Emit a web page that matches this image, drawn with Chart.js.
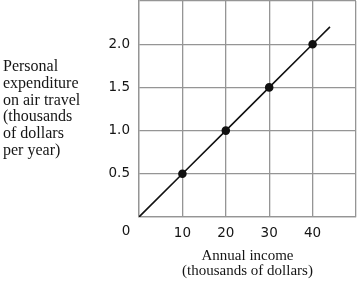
<!DOCTYPE html>
<html>
<head>
<meta charset="utf-8">
<script src="https://cdn.jsdelivr.net/npm/chart.js@4.4.1/dist/chart.umd.min.js"></script>
<style>
  html, body { margin: 0; padding: 0; background: #fff; }
  #wrap { width: 357px; height: 283px; position: relative; }
</style>
</head>
<body>
<div id="wrap"><canvas id="chart"></canvas></div>
<script>
// income (thousands of dollars) and air-travel spending (thousands per year)
const income = [0, 10, 20, 30, 40, 44];
const spending = [0, 0.5, 1.0, 1.5, 2.0, 2.2];
const xTicks = [10, 20, 30, 40];
const yTicks = [0.5, 1.0, 1.5, 2.0];
const yTitle = ['Personal', 'expenditure', 'on air travel', '(thousands', 'of dollars', 'per year)'];
const xTitle = ['Annual income', '(thousands of dollars)'];

const tickFont = { family: 'DejaVu Sans', size: 13.5 };
const gridColor = '#959595';

// titles and the lone "0" at the corner
const extras = {
  id: 'extras',
  afterDraw(chart) {
    const { ctx, chartArea } = chart;
    ctx.save();
    ctx.fillStyle = '#151515';
    ctx.font = '16px "Liberation Serif"';
    ctx.textAlign = 'left';
    ctx.textBaseline = 'middle';
    yTitle.forEach((line, i) => ctx.fillText(line, 3, 67 + i * 16.7));
    ctx.font = '15px "Liberation Serif"';
    ctx.textAlign = 'center';
    const cx = (chartArea.left + chartArea.right) / 2;
    xTitle.forEach((line, i) => ctx.fillText(line, cx, 256 + i * 15));
    ctx.font = tickFont.size + 'px "' + tickFont.family + '"';
    ctx.fillText('0', chartArea.left - 13, chartArea.bottom + 14.5);
    ctx.restore();
  }
};

new Chart(document.getElementById('chart'), {
  type: 'line',
  data: {
    datasets: [{
      data: income.map((x, i) => ({ x, y: spending[i] })),
      borderColor: '#111',
      borderWidth: 1.6,
      backgroundColor: '#111',
      pointRadius: income.map(x => xTicks.includes(x) ? 3.5 : 0),
      pointHoverRadius: 0,
      tension: 0
    }]
  },
  options: {
    responsive: true,
    maintainAspectRatio: false,
    animation: false,
    layout: { padding: { left: 0, right: 1, top: 1, bottom: 0 } },
    plugins: { legend: { display: false }, tooltip: { enabled: false } },
    scales: {
      x: {
        type: 'linear',
        min: 0,
        max: 50,
        afterFit: s => { s.height = 66; s.paddingLeft = 0; s.paddingRight = 0; },
        ticks: {
          stepSize: 10,
          padding: 8,
          color: '#151515',
          font: tickFont,
          callback: v => xTicks.includes(v) ? String(v) : ''
        },
        grid: { color: gridColor, lineWidth: 1.3, drawTicks: false },
        border: { color: gridColor, width: 1.3 }
      },
      y: {
        type: 'linear',
        min: 0,
        max: 2.5,
        afterFit: s => { s.width = 139; s.paddingTop = 0; s.paddingBottom = 0; },
        ticks: {
          stepSize: 0.5,
          padding: 9,
          color: '#151515',
          font: tickFont,
          callback: v => yTicks.includes(v) ? v.toFixed(1) : ''
        },
        grid: { color: gridColor, lineWidth: 1.3, drawTicks: false },
        border: { color: gridColor, width: 1.3 }
      }
    }
  },
  plugins: [extras]
});
</script>
</body>
</html>
